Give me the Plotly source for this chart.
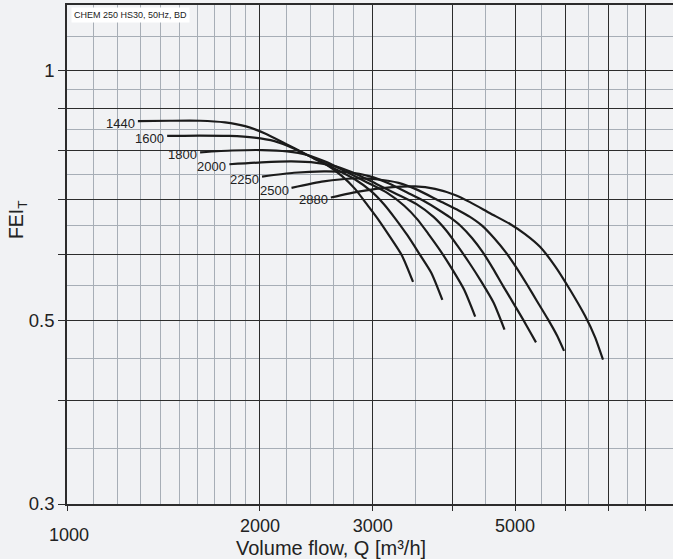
import math
import plotly.graph_objects as go

# ---------------- data ----------------
speed_labels = ["1440", "1600", "1800", "2000", "2250", "2500", "2880"]

q_1440 = [1290, 1448, 1613, 1764, 1896, 2037, 2188, 2351, 2527, 2686, 2814, 2927, 3056, 3191, 3332, 3466]
fei_1440 = [0.869, 0.870, 0.870, 0.866, 0.857, 0.840, 0.817, 0.794, 0.772, 0.746, 0.720, 0.692, 0.662, 0.630, 0.598, 0.556]

q_1600 = [1433, 1609, 1792, 1960, 2107, 2263, 2431, 2612, 2808, 2984, 3127, 3252, 3396, 3546, 3702, 3851]
fei_1600 = [0.834, 0.835, 0.834, 0.830, 0.822, 0.805, 0.783, 0.762, 0.740, 0.715, 0.689, 0.663, 0.633, 0.601, 0.570, 0.529]

q_1800 = [1613, 1810, 2016, 2205, 2370, 2546, 2735, 2939, 3159, 3358, 3518, 3659, 3820, 3989, 4165, 4333]
fei_1800 = [0.797, 0.801, 0.802, 0.799, 0.791, 0.775, 0.754, 0.733, 0.712, 0.687, 0.662, 0.636, 0.607, 0.576, 0.544, 0.505]

q_2000 = [1792, 2011, 2240, 2450, 2633, 2829, 3039, 3265, 3510, 3731, 3908, 4065, 4244, 4432, 4628, 4814]
fei_2000 = [0.771, 0.775, 0.777, 0.774, 0.766, 0.750, 0.730, 0.710, 0.690, 0.666, 0.641, 0.615, 0.586, 0.556, 0.525, 0.487]

q_2250 = [2015, 2260, 2517, 2754, 2959, 3180, 3416, 3593, 3791, 3959, 4118, 4284, 4457, 4620, 4788, 4964, 5145, 5276, 5391]
fei_2250 = [0.745, 0.753, 0.756, 0.754, 0.746, 0.731, 0.711, 0.697, 0.680, 0.665, 0.649, 0.628, 0.603, 0.577, 0.550, 0.525, 0.501, 0.484, 0.470]

q_2500 = [2240, 2514, 2800, 3063, 3291, 3536, 3800, 4083, 4253, 4441, 4636, 4841, 5036, 5220, 5411, 5629, 5814, 5962]
fei_2500 = [0.722, 0.735, 0.741, 0.739, 0.732, 0.717, 0.697, 0.678, 0.666, 0.650, 0.628, 0.603, 0.577, 0.552, 0.527, 0.501, 0.479, 0.459]

q_2880 = [2580, 2865, 3191, 3491, 3751, 4030, 4253, 4570, 4911, 5183, 5469, 5772, 6092, 6429, 6664, 6858]
fei_2880 = [0.703, 0.715, 0.723, 0.725, 0.720, 0.708, 0.694, 0.673, 0.653, 0.635, 0.613, 0.581, 0.544, 0.506, 0.477, 0.448]

x_major = [1000, 2000, 3000, 4000, 5000, 6000, 7000, 8000]
x_major_text = ["", "2000", "3000", "", "5000", "", "", ""]
x_first_label = "1000"
x_minor = [1100, 1200, 1300, 1400, 1500, 1600, 1700, 1800, 1900,
           2200, 2400, 2600, 2800, 3500, 4500, 5500, 6500, 7500]

y_major = [0.3, 0.4, 0.5, 0.6, 0.7, 0.8, 0.9, 1.0]
y_major_text = ["0.3", "", "0.5", "", "", "", "", "1"]
y_minor = [0.35, 0.45, 0.55, 0.65, 0.75, 0.85, 0.95, 1.1]

chart_note = "CHEM 250 HS30, 50Hz, BD"
x_title = "Volume flow, Q [m³/h]"
y_title = "FEI<sub>T</sub>"

# ---------------- styling ----------------
FONT = "Liberation Sans, Arial, Helvetica, sans-serif"
BG = "#f1f2f4"
DARK = "#2c2c2c"
LIGHT = "#a7aeb6"
CURVE = "#1b1b1b"
TEXT = "#222222"

series = [
    (speed_labels[0], q_1440, fei_1440),
    (speed_labels[1], q_1600, fei_1600),
    (speed_labels[2], q_1800, fei_1800),
    (speed_labels[3], q_2000, fei_2000),
    (speed_labels[4], q_2250, fei_2250),
    (speed_labels[5], q_2500, fei_2500),
    (speed_labels[6], q_2880, fei_2880),
]

fig = go.Figure()
annotations = []
for name, q, f in series:
    fig.add_trace(go.Scatter(
        x=q, y=f, mode="lines", name=name, showlegend=False,
        line=dict(color=CURVE, width=2.2, shape="spline", smoothing=0.6),
        hoverinfo="skip",
    ))
    annotations.append(dict(
        x=math.log10(q[0]), y=math.log10(f[0]), xref="x", yref="y",
        text=name, showarrow=False, xanchor="right", yanchor="middle",
        xshift=-1, yshift=-2.5,
        font=dict(family=FONT, size=13, color=TEXT),
    ))

# first x tick label sits lower than the others
annotations.append(dict(
    x=math.log10(x_major[0]), y=0, xref="x", yref="paper",
    text=x_first_label, showarrow=False, xanchor="center", yanchor="middle",
    xshift=2, yshift=-31,
    font=dict(family=FONT, size=18, color=TEXT),
))
# axis titles
annotations.append(dict(
    x=0.4356, y=0, xref="paper", yref="paper", text=x_title, showarrow=False,
    xanchor="center", yanchor="middle", yshift=-44,
    font=dict(family=FONT, size=20, color=TEXT),
))
annotations.append(dict(
    x=0, y=0.569, xref="paper", yref="paper", text=y_title, showarrow=False,
    xanchor="center", yanchor="middle", xshift=-50, textangle=-90,
    font=dict(family=FONT, size=19.5, color=TEXT),
))
# chart note
annotations.append(dict(
    x=0, y=1, xref="paper", yref="paper", text=chart_note, showarrow=False,
    xanchor="left", yanchor="top", xshift=4, yshift=-2,
    bgcolor="#ffffff", borderpad=2,
    font=dict(family=FONT, size=9, color=TEXT),
))

fig.update_layout(
    width=673, height=559,
    margin=dict(l=67, r=0, t=5, b=55),
    paper_bgcolor=BG, plot_bgcolor=BG,
    font=dict(family=FONT, color=TEXT),
    annotations=annotations,
    xaxis=dict(
        type="log", range=[3, 3.9454],
        tickmode="array", tickvals=x_major, ticktext=x_major_text,
        showgrid=True, gridcolor=DARK, gridwidth=1.3,
        showline=True, linecolor=DARK, linewidth=1.5, mirror=True,
        ticks="outside", ticklen=5, tickcolor=DARK, tickwidth=1.3,
        tickfont=dict(family=FONT, size=18, color=TEXT),
        minor=dict(tickmode="array", tickvals=x_minor, showgrid=True,
                   gridcolor=LIGHT, gridwidth=1.3, ticks=""),
        fixedrange=True,
    ),
    yaxis=dict(
        type="log", range=[math.log10(0.3), math.log10(1.2)],
        tickmode="array", tickvals=y_major, ticktext=y_major_text,
        showgrid=True, gridcolor=DARK, gridwidth=1.3,
        showline=True, linecolor=DARK, linewidth=1.5,
        ticks="outside", ticklen=7, tickcolor=DARK, tickwidth=1.3,
        tickfont=dict(family=FONT, size=18.5, color=TEXT),
        minor=dict(tickmode="array", tickvals=y_minor, showgrid=True,
                   gridcolor=LIGHT, gridwidth=1.3, ticks=""),
        fixedrange=True,
    ),
)

fig.write_html(
    "out.html",
    config={"displayModeBar": False},
    post_script="document.body.style.margin='0';document.body.style.padding='0';"
                "document.body.style.overflow='hidden';"
                "document.body.style.background='" + BG + "';",
)
